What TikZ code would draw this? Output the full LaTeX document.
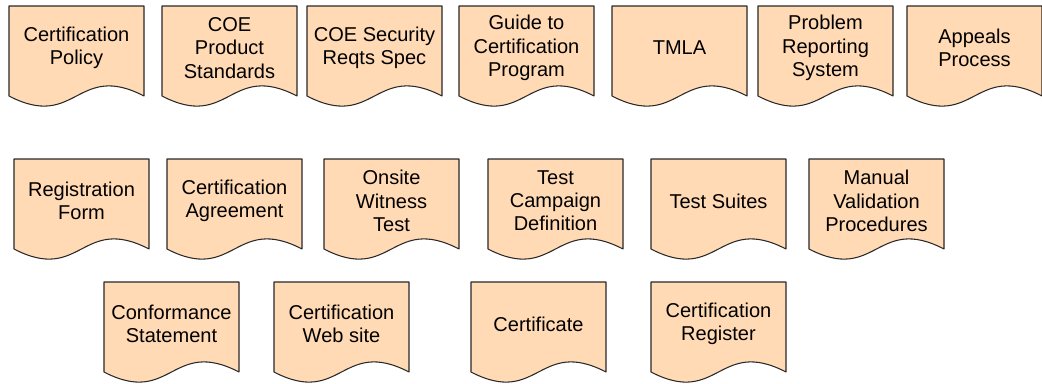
\documentclass[tikz,border=0pt]{standalone}
\usepackage{fontspec}
\setmainfont{Liberation Sans}
\definecolor{docfill}{RGB}{255,218,180}
\definecolor{docline}{RGB}{40,40,40}
\begin{document}
\begin{tikzpicture}[x=0.02cm,y=-0.02cm]
		\tikzset{
			docshape/.style={fill=docfill, draw=docline, line width=0.6pt, line join=round},
			doctext/.style={align=center, inner sep=0pt, font=\fontsize{11.4}{13.2}\selectfont}
		}
		\newcommand{\mydocshape}[4]{
			\begin{scope}[shift={(#2,#3)}]
				\filldraw[docshape] (0,0) -- (135,0) -- (135,90)
					.. controls (67.5,55) and (67.5,125) .. (0,90) -- cycle;
				\node [doctext] (#1) at (67.5,42) {#4};
			\end{scope}
		}
		%Bounding box of the page
		\useasboundingbox (0,0) rectangle (1042,383);
		%First row of documents
		\mydocshape{certpolicy}{9}{6}{Certification\\Policy}
		\mydocshape{coestd}{162}{6}{COE\\Product\\Standards}
		\mydocshape{coesec}{307}{6}{COE Security\\Reqts Spec}
		\mydocshape{guide}{459}{6}{Guide to\\Certification\\Program}
		\mydocshape{tmla}{612}{6}{TMLA}
		\mydocshape{problem}{758}{6}{Problem\\Reporting\\System}
		\mydocshape{appeals}{907}{6}{Appeals\\Process}
		%Second row of documents
		\mydocshape{regform}{14}{159}{Registration\\Form}
		\mydocshape{certagree}{167}{159}{Certification\\Agreement}
		\mydocshape{onsite}{324}{159}{Onsite\\Witness\\Test}
		\mydocshape{campaign}{488}{159}{Test\\Campaign\\Definition}
		\mydocshape{suites}{651}{159}{Test Suites}
		\mydocshape{manual}{809}{159}{Manual\\Validation\\Procedures}
		%Third row of documents
		\mydocshape{conform}{104}{282}{Conformance\\Statement}
		\mydocshape{website}{274}{282}{Certification\\Web site}
		\mydocshape{certificate}{471}{282}{Certificate}
		\mydocshape{register}{651}{282}{Certification\\Register}
\end{tikzpicture}
\end{document}
